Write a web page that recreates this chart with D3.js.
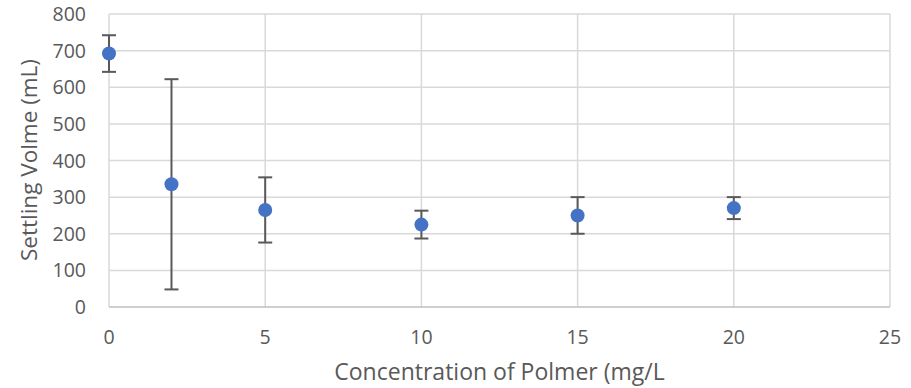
<!DOCTYPE html>
<html>
<head>
<meta charset="utf-8">
<script src="https://cdn.jsdelivr.net/npm/d3@7"></script>
<style>
  body { margin: 0; background: #fff; }
  svg text { font-family: "Open Sans", sans-serif; fill: #595959; }
</style>
</head>
<body>
<svg id="chart" width="911" height="388"></svg>
<script>
// data
const concentrations = [0, 2, 5, 10, 15, 20];
const volumes = [692, 335, 265, 225, 250, 270];
const errors = [50, 287, 89, 38, 50, 30];
const xTicks = [0, 5, 10, 15, 20, 25];
const yTicks = [0, 100, 200, 300, 400, 500, 600, 700, 800];

const svg = d3.select("#chart");
const margin = { top: 14, right: 21, bottom: 81, left: 109 };
const width = +svg.attr("width") - margin.left - margin.right;
const height = +svg.attr("height") - margin.top - margin.bottom;

const x = d3.scaleLinear().domain([0, 25]).range([0, width]);
const y = d3.scaleLinear().domain([0, 800]).range([height, 0]);

const g = svg.append("g")
  .attr("transform", `translate(${margin.left},${margin.top})`);

// gridlines
g.append("g")
  .selectAll("line")
  .data(yTicks.slice(1))
  .join("line")
  .attr("x1", 0).attr("x2", width)
  .attr("y1", d => y(d)).attr("y2", d => y(d))
  .attr("stroke", "#d9d9d9").attr("stroke-width", 1.5);

g.append("g")
  .selectAll("line")
  .data(xTicks)
  .join("line")
  .attr("x1", d => x(d)).attr("x2", d => x(d))
  .attr("y1", 0).attr("y2", height)
  .attr("stroke", "#d9d9d9").attr("stroke-width", 1.5);

// x axis line
g.append("line")
  .attr("x1", 0).attr("x2", width)
  .attr("y1", height).attr("y2", height)
  .attr("stroke", "#bfbfbf").attr("stroke-width", 1.5);

// tick labels
g.append("g")
  .selectAll("text")
  .data(yTicks)
  .join("text")
  .attr("x", -23)
  .attr("y", d => y(d) + 7)
  .attr("text-anchor", "end")
  .style("font-size", "19.5px")
  .text(d => d);

g.append("g")
  .selectAll("text")
  .data(xTicks)
  .join("text")
  .attr("x", d => x(d))
  .attr("y", height + 37)
  .attr("text-anchor", "middle")
  .style("font-size", "19.5px")
  .text(d => d);

// axis titles
svg.append("text")
  .attr("x", margin.left + width / 2)
  .attr("y", 380)
  .attr("text-anchor", "middle")
  .style("font-size", "23px")
  .text("Concentration of Polmer (mg/L");

svg.append("text")
  .attr("transform", `translate(37,160) rotate(-90)`)
  .attr("text-anchor", "middle")
  .style("font-size", "22.5px")
  .text("Settling Volme (mL)");

// error bars
const data = concentrations.map((c, i) => ({ c, v: volumes[i], e: errors[i] }));
const capW = 7;
const eb = g.append("g").attr("stroke", "#595959").attr("stroke-width", 2);
eb.selectAll(".stem")
  .data(data)
  .join("line")
  .attr("x1", d => x(d.c)).attr("x2", d => x(d.c))
  .attr("y1", d => y(d.v + d.e)).attr("y2", d => y(d.v - d.e));
eb.selectAll(".capTop")
  .data(data)
  .join("line")
  .attr("x1", d => x(d.c) - capW).attr("x2", d => x(d.c) + capW)
  .attr("y1", d => y(d.v + d.e)).attr("y2", d => y(d.v + d.e));
eb.selectAll(".capBot")
  .data(data)
  .join("line")
  .attr("x1", d => x(d.c) - capW).attr("x2", d => x(d.c) + capW)
  .attr("y1", d => y(d.v - d.e)).attr("y2", d => y(d.v - d.e));

// points
g.append("g")
  .selectAll("circle")
  .data(data)
  .join("circle")
  .attr("cx", d => x(d.c))
  .attr("cy", d => y(d.v))
  .attr("r", 7)
  .attr("fill", "#4472c4");
</script>
</body>
</html>
